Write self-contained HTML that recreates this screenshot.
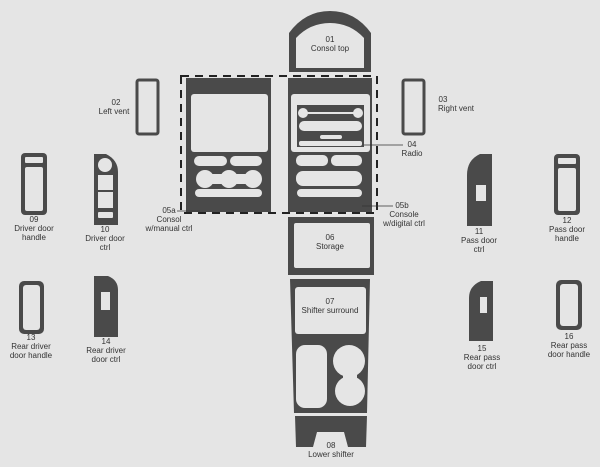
<!DOCTYPE html>
<html><head><style>
html,body{margin:0;padding:0;background:#e5e5e5}
svg{display:block}
text{font-family:"Liberation Sans",sans-serif;font-size:8px;fill:#333;text-anchor:middle}
</style></head><body>
<svg width="600" height="467" viewBox="0 0 600 467">
<rect width="600" height="467" fill="#e5e5e5"/>
<g fill="#4a4a4a">
<!-- 01 -->
<path d="M289,72 L289,33 Q305,11 330,11 Q355,11 371,33 L371,72 Z"/>
<!-- 05a -->
<rect x="186" y="78" width="85" height="134"/>
<!-- 05b -->
<rect x="288" y="78" width="84" height="134"/>
<!-- 06 -->
<rect x="288" y="217" width="86" height="58"/>
<!-- 07 -->
<path d="M290,279 L370,279 L367,413 L294,413 Z"/>
<!-- 08 -->
<path d="M295,416 L367,416 L366,447 L296,447 Z"/>
</g>
<g fill="#e5e5e5">
<path d="M296,68 L296,38 Q310,23 330,23 Q350,23 364,38 L364,68 Z"/>
<rect x="191" y="94" width="77" height="58" rx="3"/>
<rect x="194" y="156" width="33" height="10" rx="5"/>
<rect x="230" y="156" width="32" height="10" rx="5"/>
<circle cx="205" cy="179" r="9"/><circle cx="229" cy="179" r="9"/><circle cx="253" cy="179" r="9"/>
<rect x="205" y="174" width="48" height="10"/>
<rect x="195" y="189" width="67" height="8" rx="4"/>
<rect x="291" y="94" width="79" height="58" rx="3"/>
<rect x="296" y="155" width="32" height="11" rx="5"/>
<rect x="331" y="155" width="31" height="11" rx="5"/>
<rect x="296" y="171" width="66" height="15" rx="7"/>
<rect x="297" y="189" width="65" height="8" rx="4"/>
<rect x="294" y="223" width="76" height="45" rx="2"/>
<rect x="295" y="287" width="71" height="47" rx="3"/>
<rect x="296" y="345" width="31" height="63" rx="9"/>
<circle cx="349" cy="361" r="16"/><circle cx="350" cy="391" r="15"/>
<rect x="343" y="365" width="14" height="22"/>
<path d="M313,447 L317,432 L344,432 L348,447 Z"/>
</g>
<!-- radio -->
<rect x="297" y="105" width="67" height="42" fill="#4a4a4a"/>
<g fill="#e5e5e5">
<circle cx="303" cy="113" r="5"/><circle cx="358" cy="113" r="5"/>
<rect x="303" y="112" width="55" height="2"/>
<rect x="299" y="121" width="63" height="10" rx="5"/>
<rect x="320" y="135" width="22" height="4" rx="2"/>
<rect x="299" y="141" width="63" height="5" rx="2"/>
</g>
<!-- dashed -->
<rect x="181" y="76" width="196" height="137" fill="none" stroke="#222" stroke-width="2" stroke-dasharray="8,6"/>
<!-- leaders -->
<g stroke="#333" stroke-width="0.8">
<line x1="364" y1="145" x2="403" y2="145"/>
<line x1="362" y1="206" x2="393" y2="206"/>
<line x1="177" y1="211" x2="200" y2="211"/>
</g>
<!-- vents -->
<g fill="none" stroke="#4a4a4a" stroke-width="3">
<rect x="137" y="80" width="21" height="54" rx="2"/>
<rect x="403" y="80" width="21" height="54" rx="2"/>
</g>
<!-- handles -->
<g fill="#4a4a4a">
<rect x="21" y="153" width="26" height="62" rx="4"/>
<rect x="554" y="154" width="26" height="61" rx="4"/>
<rect x="19" y="281" width="25" height="53" rx="5"/>
<rect x="556" y="280" width="26" height="50" rx="5"/>
<path d="M94,154 L106,154 Q118,160 118,172 L118,225 L94,225 Z"/>
<path d="M94,276 L108,276 Q118,280 118,290 L118,337 L94,337 Z"/>
<path d="M492,154 L480,154 Q467,160 467,175 L467,226 L492,226 Z"/>
<path d="M493,281 L481,281 Q469,286 469,298 L469,341 L493,341 Z"/>
</g>
<g fill="#e5e5e5">
<rect x="25" y="157" width="18" height="6" rx="1"/>
<rect x="25" y="167" width="18" height="44" rx="2"/>
<rect x="558" y="158" width="18" height="6" rx="1"/>
<rect x="558" y="168" width="18" height="43" rx="2"/>
<rect x="23" y="285" width="17" height="45" rx="3"/>
<rect x="560" y="284" width="18" height="42" rx="3"/>
<circle cx="105" cy="165" r="7"/>
<rect x="98" y="175" width="15" height="15"/>
<rect x="98" y="192" width="15" height="16"/>
<rect x="98" y="212" width="15" height="6" rx="1"/>
<rect x="101" y="292" width="9" height="18"/>
<rect x="476" y="185" width="10" height="16"/>
<rect x="480" y="297" width="7" height="16"/>
</g>
<!-- labels -->
<text x="330" y="42">01</text><text x="330" y="51">Consol top</text>
<text x="412" y="147">04</text><text x="412" y="156">Radio</text>
<text x="402" y="208">05b</text><text x="404" y="217">Console</text><text x="404" y="226">w/digital ctrl</text>
<text x="169" y="213">05a</text><text x="169" y="222">Consol</text><text x="169" y="231">w/manual ctrl</text>
<text x="330" y="240">06</text><text x="330" y="249">Storage</text>
<text x="330" y="304">07</text><text x="330" y="313">Shifter surround</text>
<text x="331" y="448">08</text><text x="331" y="457">Lower shifter</text>
<text x="116" y="105">02</text><text x="114" y="114">Left vent</text>
<text x="443" y="102">03</text><text x="456" y="111">Right vent</text>
<text x="34" y="222">09</text><text x="34" y="231">Driver door</text><text x="34" y="240">handle</text>
<text x="105" y="232">10</text><text x="105" y="241">Driver door</text><text x="105" y="250">ctrl</text>
<text x="31" y="340">13</text><text x="31" y="349">Rear driver</text><text x="31" y="358">door handle</text>
<text x="106" y="344">14</text><text x="106" y="353">Rear driver</text><text x="106" y="362">door ctrl</text>
<text x="479" y="234">11</text><text x="479" y="243">Pass door</text><text x="479" y="252">ctrl</text>
<text x="567" y="223">12</text><text x="567" y="232">Pass door</text><text x="567" y="241">handle</text>
<text x="482" y="351">15</text><text x="482" y="360">Rear pass</text><text x="482" y="369">door ctrl</text>
<text x="569" y="339">16</text><text x="569" y="348">Rear pass</text><text x="569" y="357">door handle</text>
</svg>
</body></html>
